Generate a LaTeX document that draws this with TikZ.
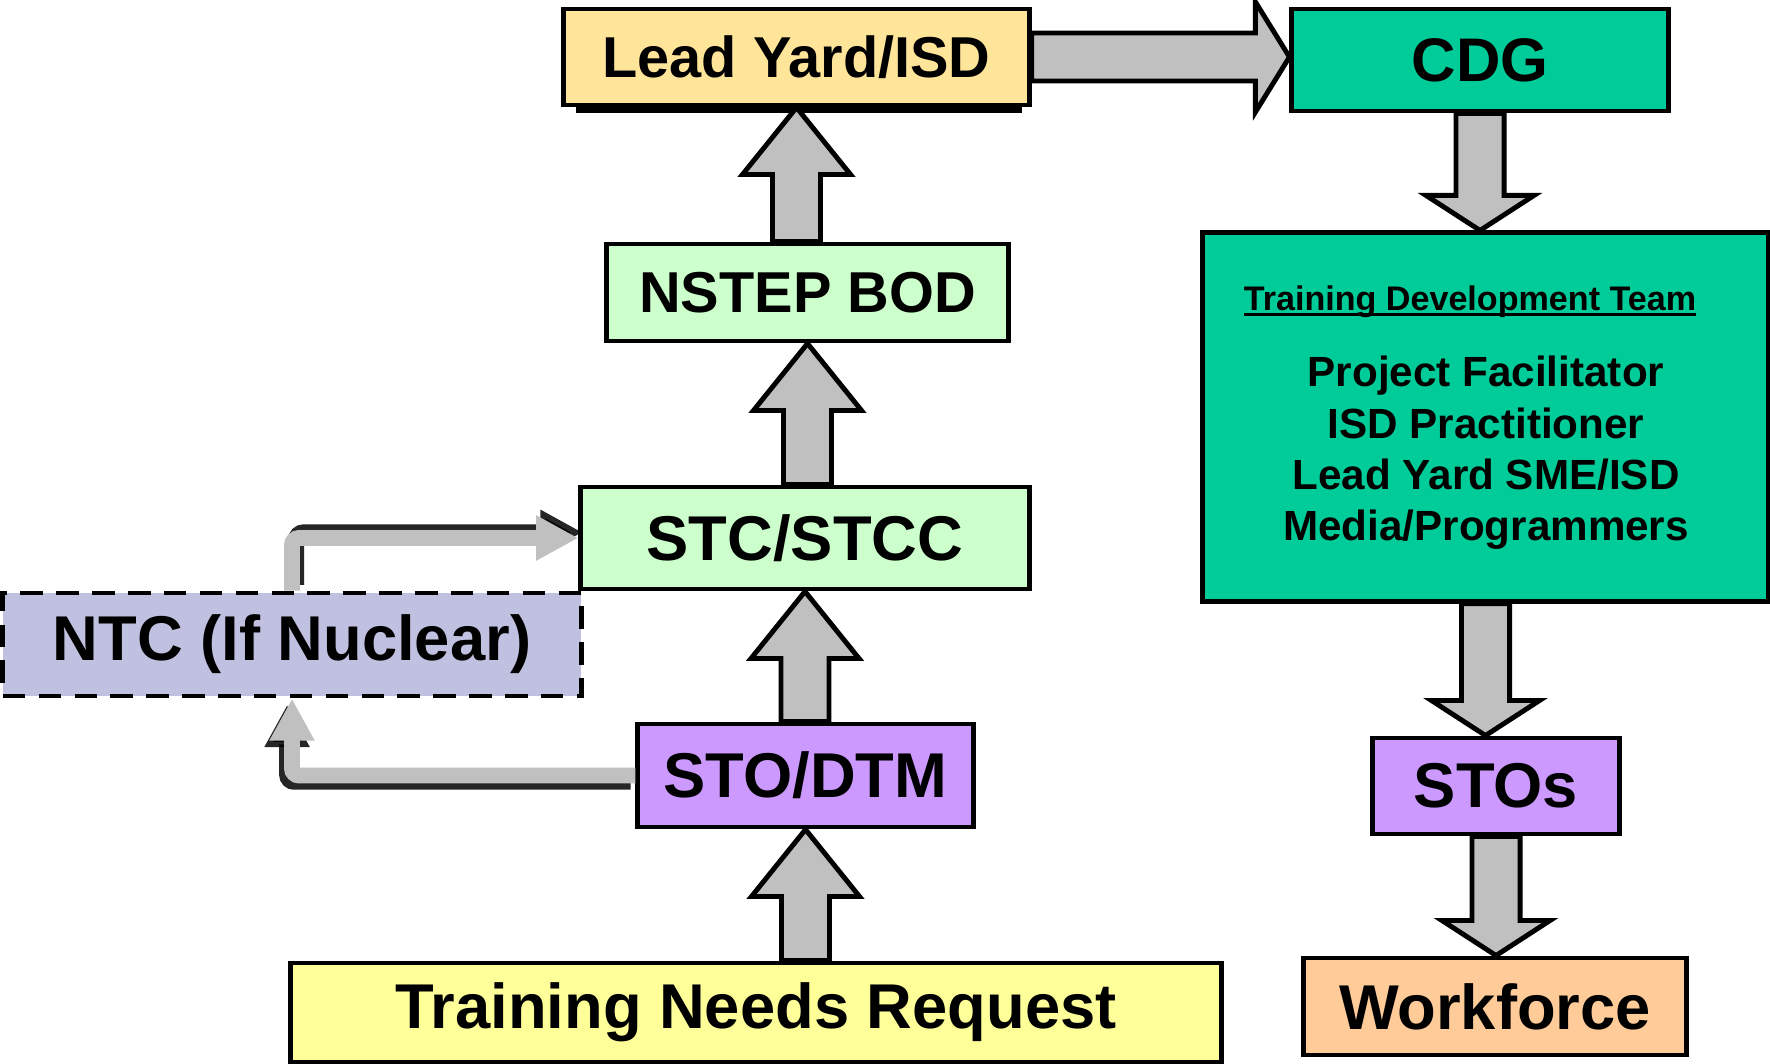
\documentclass[tikz,border=0pt]{standalone}
\usepackage{fontspec}
\setmainfont{Liberation Sans}
\usepackage{tikz}
\usetikzlibrary{calc}
\usepgflibrary{arrows.meta}

\definecolor{leadyel}{RGB}{255,229,153}
\definecolor{cdggreen}{RGB}{0,204,153}
\definecolor{stcgreen}{RGB}{204,255,204}
\definecolor{ntcblue}{RGB}{192,192,224}
\definecolor{stopurple}{RGB}{204,153,255}
\definecolor{tnryel}{RGB}{255,255,153}
\definecolor{workorange}{RGB}{255,204,153}
\definecolor{arrgray}{RGB}{192,192,192}

\newcommand{\upblock}[2]{%
  \draw[blkarrow] let \p1=(#1.north), \p2=(#2.south) in
    (\x2-0.24cm,\y1) -- (\x2-0.24cm,\y2-0.67cm) -- (\x2-0.54cm,\y2-0.67cm) -- (\x2,\y2)
    -- (\x2+0.54cm,\y2-0.67cm) -- (\x2+0.24cm,\y2-0.67cm) -- (\x2+0.24cm,\y1) -- cycle;}
\newcommand{\downblock}[2]{%
  \draw[blkarrow] let \p1=(#1.south), \p2=(#2.north) in
    (\x1-0.24cm,\y1) -- (\x1-0.24cm,\y2+0.35cm) -- (\x1-0.54cm,\y2+0.35cm) -- (\x1,\y2)
    -- (\x1+0.54cm,\y2+0.35cm) -- (\x1+0.24cm,\y2+0.35cm) -- (\x1+0.24cm,\y1) -- cycle;}
\newcommand{\rightblock}[2]{%
  \draw[blkarrow] let \p1=(#1.east), \p2=(#2.west) in
    (\x1,\y1+0.24cm) -- (\x2-0.34cm,\y1+0.24cm) -- (\x2-0.34cm,\y1+0.55cm) -- (\x2,\y1)
    -- (\x2-0.34cm,\y1-0.55cm) -- (\x2-0.34cm,\y1-0.24cm) -- (\x1,\y1-0.24cm) -- cycle;}
\newcommand{\thickul}[1]{{\setbox0\hbox{#1}\rlap{\rule[-1.6pt]{\wd0}{0.9pt}}\box0}}

\begin{document}
\begin{tikzpicture}[x=0.01cm, y=-0.01cm,
    box/.style={draw, line width=1.4pt, inner sep=0pt, font=\bfseries\fontsize{18}{21}\selectfont},
    blkarrow/.style={fill=arrgray, draw=black, line width=1.4pt, line join=miter},
    grayline/.style={draw=arrgray, line width=4.5pt, rounded corners=2pt, -{Triangle[length=12pt,width=12pt]}},
    grayshadow/.style={draw=black, opacity=.85, line width=4.5pt, rounded corners=2pt, -{Triangle[length=12pt,width=12pt]}}]
      \useasboundingbox[fill=white] (0,0) rectangle (1770,1064);
      \fill (576,20) rectangle (1022,113);
      \node[box, fill=leadyel, minimum width=4.65cm, minimum height=0.96cm, font=\bfseries\fontsize{16.4}{19}\selectfont] (lead) at (796.5,57) {Lead Yard/ISD};
      \node[box, fill=cdggreen, minimum width=3.76cm, minimum height=1.02cm, font=\bfseries\fontsize{17.5}{20}\selectfont] (cdg) at (1480,60) {CDG};
      \node[box, fill=stcgreen, minimum width=4.01cm, minimum height=0.97cm, font=\bfseries\fontsize{16.4}{19}\selectfont] (nstep) at (807.5,292.5) {NSTEP BOD};
      \node[box, fill=stcgreen, minimum width=4.48cm, minimum height=1.02cm] (stc) at (805,538) {STC/STCC};
      \node[box, fill=ntcblue, dash pattern=on 6.4pt off 3.8pt, minimum width=5.78cm, minimum height=1.03cm] (ntc) at (292,644.5) {NTC (If Nuclear)};
      \node[box, fill=stopurple, minimum width=3.35cm, minimum height=1.03cm] (sto) at (805.5,775.5) {STO/DTM};
      \node[box, fill=tnryel, minimum width=9.30cm, minimum height=0.99cm] (tnr) at (756,1012.5) {Training Needs Request};
      \node[box, fill=cdggreen, minimum width=5.65cm, minimum height=3.68cm] (tdt) at (1485.5,417) {};
      \node[font=\bfseries\fontsize{9.7}{12}\selectfont] (tdthead) at (1470,302) {\thickul{Training Development Team}};
      \node[font=\bfseries\fontsize{12}{14.6}\selectfont, align=center] (tdtlist) at (1486,453) {Project Facilitator\\ISD Practitioner\\Lead Yard SME/ISD\\Media/Programmers};
      \node[box, fill=stopurple, minimum width=2.46cm, minimum height=0.96cm] (stos) at (1496,786) {STOs};
      \node[box, fill=workorange, minimum width=3.82cm, minimum height=0.97cm] (work) at (1495,1006.5) {Workforce};
      \rightblock{lead}{cdg}
      \upblock{nstep}{lead}
      \upblock{stc}{nstep}
      \upblock{sto}{stc}
      \upblock{tnr}{sto}
      \downblock{cdg}{tdt}
      \downblock{tdt}{stos}
      \downblock{stos}{work}
      \draw[grayshadow, transform canvas={shift={(1.2pt,1.6pt)}}] (ntc.north) |- (stc.west);
      \draw[grayline] (ntc.north) |- (stc.west);
      \draw[grayshadow, transform canvas={shift={(-1.4pt,-1.8pt)}}] (sto.west) -| (ntc.south);
      \draw[grayline] (sto.west) -| (ntc.south);
\end{tikzpicture}
\end{document}
